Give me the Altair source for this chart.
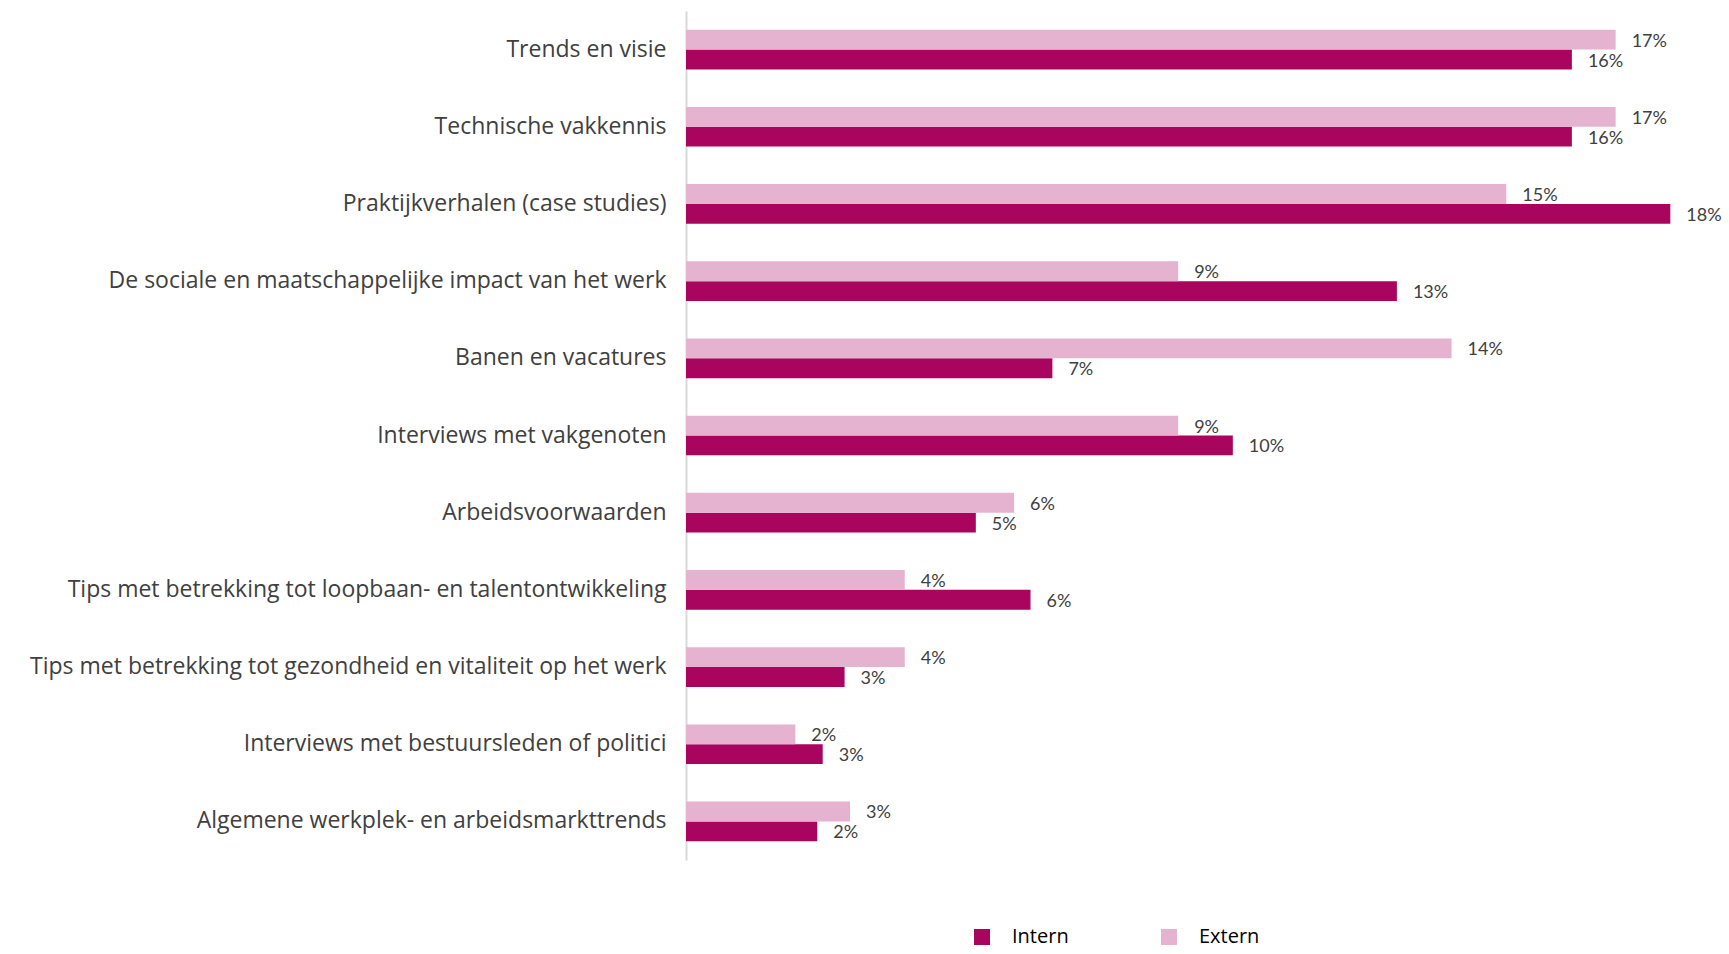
import altair as alt
import pandas as pd

categories = [
    "Trends en visie",
    "Technische vakkennis",
    "Praktijkverhalen (case studies)",
    "De sociale en maatschappelijke impact van het werk",
    "Banen en vacatures",
    "Interviews met vakgenoten",
    "Arbeidsvoorwaarden",
    "Tips met betrekking tot loopbaan- en talentontwikkeling",
    "Tips met betrekking tot gezondheid en vitaliteit op het werk",
    "Interviews met bestuursleden of politici",
    "Algemene werkplek- en arbeidsmarkttrends",
]
intern = [0.162, 0.162, 0.180, 0.130, 0.067, 0.100, 0.053, 0.063, 0.029, 0.025, 0.024]
extern = [0.170, 0.170, 0.150, 0.090, 0.140, 0.090, 0.060, 0.040, 0.040, 0.020, 0.030]
series = ["Intern", "Extern"]
colors = ["#A9055F", "#E5B2CF"]

rows = []
for c, i, e in zip(categories, intern, extern):
    rows.append({"categorie": c, "groep": "Intern", "waarde": i})
    rows.append({"categorie": c, "groep": "Extern", "waarde": e})
df = pd.DataFrame(rows)

y_enc = alt.Y(
    "categorie:N",
    sort=categories,
    scale=alt.Scale(paddingInner=0.486, paddingOuter=0.243),
    axis=alt.Axis(
        title=None,
        ticks=False,
        domain=True,
        domainColor="#D9D9D9",
        domainWidth=2,
        labelFont="Open Sans",
        labelFontSize=23,
        labelColor="#404040",
        labelPadding=20,
        labelLimit=800,
        grid=False,
    ),
)
x_enc = alt.X(
    "waarde:Q",
    scale=alt.Scale(domain=[0, 0.19], nice=False),
    axis=None,
)
yoff = alt.YOffset("groep:N", sort=["Extern", "Intern"])

bars = alt.Chart(df).mark_bar().encode(
    y=y_enc,
    x=x_enc,
    yOffset=yoff,
    color=alt.Color(
        "groep:N",
        sort=series,
        scale=alt.Scale(domain=series, range=colors),
        legend=alt.Legend(
            title=None,
            orient="none",
            legendX=286,
            legendY=916,
            direction="horizontal",
            symbolType="square",
            symbolSize=256,
            symbolStrokeWidth=0,
            labelFont="Open Sans",
            labelFontSize=20,
            labelColor="#000000",
            labelOffset=20,
            columnPadding=90,
        ),
    ),
)

labels = alt.Chart(df).mark_text(
    align="left", baseline="middle", dx=16, dy=2,
    font="Lato", fontSize=18, color="#404040",
).encode(
    y=y_enc,
    x=x_enc,
    yOffset=yoff,
    text=alt.Text("waarde:Q", format=".0%"),
)

chart = alt.layer(bars, labels).properties(
    width=1039,
    height=849,
    autosize=alt.AutoSizeParams(type="none"),
    padding={"left": 686, "top": 11, "right": 4, "bottom": 94},
).configure_view(stroke=None)

chart.save("out.html", embed_options={"renderer": "svg", "actions": False})
